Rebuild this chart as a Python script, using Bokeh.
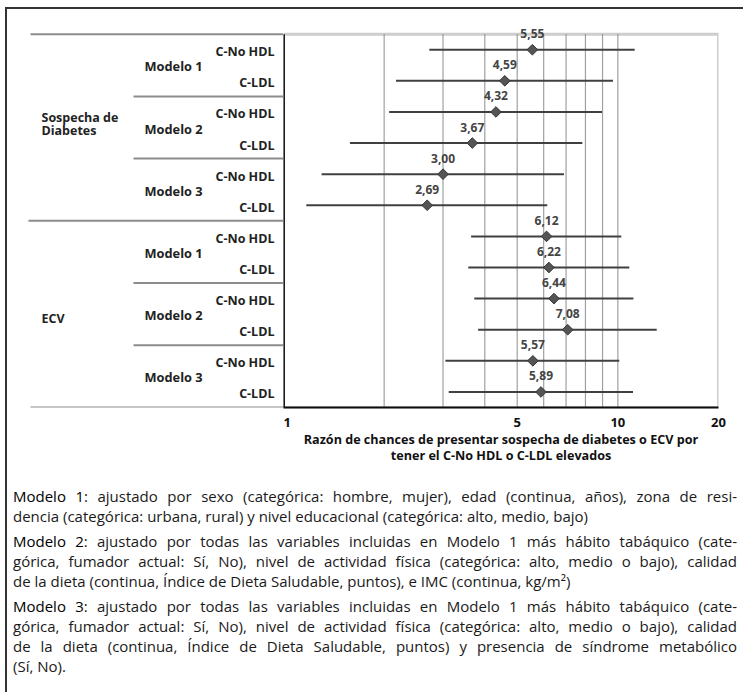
import numpy as np
from bokeh.plotting import figure
from bokeh.models import (Range1d, FixedTicker, ColumnDataSource, LabelSet, BoxAnnotation,
                          Div, Column, Row, BasicTickFormatter)
from bokeh.core.properties import value
from bokeh.embed import file_html
from bokeh.resources import INLINE

# ---------------- data ----------------
groups = ["Sospecha de Diabetes"] * 6 + ["ECV"] * 6
models = ["Modelo 1", "Modelo 1", "Modelo 2", "Modelo 2", "Modelo 3", "Modelo 3"] * 2
measures = ["C-No HDL", "C-LDL"] * 6
odds = [5.55, 4.59, 4.32, 3.67, 3.00, 2.69, 6.12, 6.22, 6.44, 7.08, 5.57, 5.89]
ci_low = [2.73, 2.17, 2.07, 1.58, 1.30, 1.17, 3.64, 3.57, 3.72, 3.82, 3.05, 3.12]
ci_high = [11.23, 9.67, 8.97, 7.83, 6.90, 6.15, 10.24, 10.82, 11.13, 13.07, 10.10, 11.10]
odds_labels = ["5,55", "4,59", "4,32", "3,67", "3,00", "2,69",
               "6,12", "6,22", "6,44", "7,08", "5,57", "5,89"]
group_lines = {"Sospecha de Diabetes": ["Sospecha de", "Diabetes"], "ECV": ["ECV"]}
x_ticks = [1, 5, 10, 20]
grid_ticks = [2, 3, 4, 5, 6, 7, 8, 9, 10]
x_title = ("Razón de chances de presentar sospecha de diabetes o ECV por\n"
           "tener el C-No HDL o C-LDL elevados")
notes = [
    ["Modelo 1: ajustado por sexo (categórica: hombre, mujer), edad (continua, años), zona de resi-",
     "dencia (categórica: urbana, rural) y nivel educacional (categórica: alto, medio, bajo)"],
    ["Modelo 2: ajustado por todas las variables incluidas en Modelo 1 más hábito tabáquico (cate-",
     "górica, fumador actual: Sí, No), nivel de actividad física (categórica: alto, medio o bajo), calidad",
     "de la dieta (continua, Índice de Dieta Saludable, puntos), e IMC (continua, kg/m²)"],
    ["Modelo 3: ajustado por todas las variables incluidas en Modelo 1 más hábito tabáquico (cate-",
     "górica, fumador actual: Sí, No), nivel de actividad física (categórica: alto, medio o bajo), calidad",
     "de la dieta (continua, Índice de Dieta Saludable, puntos) y presencia de síndrome metabólico",
     "(Sí, No)."],
]

# ---------------- styles ----------------
FONT = "Open Sans"
n = len(odds)
ypos = np.arange(n)
EXT = 0.6            # extra room above first row for the value label
TOP, BOTTOM = 6, 70
H = 468
WL, WP = 276, 460
yrange_args = dict(start=n - 0.5, end=-0.5 - EXT)

# ---------------- left label panel ----------------
pL = figure(width=WL, height=H, x_range=Range1d(0, WL), y_range=Range1d(**yrange_args),
            output_backend="svg", toolbar_location=None,
            x_axis_location=None, y_axis_location=None,
            min_border_left=0, min_border_right=0, min_border_top=TOP, min_border_bottom=BOTTOM,
            outline_line_color=None)
pL.grid.visible = False

sep_y, sep_x0 = [-0.5], [23]
for k in range(1, n):
    if groups[k] != groups[k - 1]:
        sep_y.append(k - 0.5); sep_x0.append(21)
    elif models[k] != models[k - 1]:
        sep_y.append(k - 0.5); sep_x0.append(126)
sep_y.append(n - 0.5); sep_x0.append(23)
pL.segment(x0=sep_x0, x1=WL, y0=sep_y, y1=sep_y, line_color="#8c8c8c", line_width=2)

pL.text(x=267, y=ypos, text=measures, text_align="right", text_baseline="middle",
        y_offset=2, text_font=value(FONT), text_font_style="bold",
        text_font_size="12.5px", text_color="#222222")

model_y, model_txt = [], []
k = 0
while k < n:
    j = k
    while j + 1 < n and models[j + 1] == models[k] and groups[j + 1] == groups[k]:
        j += 1
    model_y.append((k + j) / 2); model_txt.append(models[k]); k = j + 1
pL.text(x=137, y=model_y, text=model_txt, text_align="left", text_baseline="middle",
        y_offset=1, text_font=value(FONT), text_font_style="bold",
        text_font_size="12.8px", text_color="#222222")

grp_y, grp_txt, grp_off = [], [], []
group_dy = {"Sospecha de Diabetes": -3.3, "ECV": 4}
k = 0
while k < n:
    j = k
    while j + 1 < n and groups[j + 1] == groups[k]:
        j += 1
    lines = group_lines[groups[k]]
    for i, ln in enumerate(lines):
        grp_y.append((k + j) / 2)
        grp_txt.append(ln)
        grp_off.append(group_dy[groups[k]] + (i - (len(lines) - 1) / 2) * 13.4)
    k = j + 1
pL.text(x=34, y=grp_y, text=grp_txt, y_offset=grp_off, text_align="left",
        text_baseline="middle", text_font=value(FONT), text_font_style="bold",
        text_font_size="12.5px", text_color="#222222")

# ---------------- forest plot ----------------
pP = figure(width=WP, height=H, x_axis_type="log", x_range=Range1d(x_ticks[0], x_ticks[-1]),
            y_range=Range1d(**yrange_args), output_backend="svg", toolbar_location=None,
            y_axis_location=None,
            min_border_left=0, min_border_right=25, min_border_top=TOP, min_border_bottom=BOTTOM,
            outline_line_color=None)
pP.grid.visible = False

ax = pP.xaxis[0]
ax.ticker = FixedTicker(ticks=x_ticks)
ax.formatter = BasicTickFormatter()
ax.major_label_overrides = {t: str(t) for t in x_ticks}
ax.axis_line_color = "black"
ax.axis_line_width = 2
ax.major_tick_line_color = None
ax.minor_tick_line_color = None
ax.major_label_text_font = FONT
ax.major_label_text_font_style = "bold"
ax.major_label_text_font_size = "13px"
ax.major_label_text_color = "#111111"
ax.major_label_text_align = "left"
ax.major_label_standoff = 4
ax.axis_label = x_title
ax.axis_label_text_font = FONT
ax.axis_label_text_font_style = "bold"
ax.axis_label_text_font_size = "12.6px"
ax.axis_label_text_color = "#111111"
ax.axis_label_text_line_height = 0.95
ax.axis_label_standoff = 1

# vertical reference grid lines inside the plotting box
pP.segment(x0=grid_ticks, x1=grid_ticks, y0=-0.5, y1=n - 0.5, line_color="#a0a0a0", line_width=1.2)
# plotting box
pP.add_layout(BoxAnnotation(left=x_ticks[0], right=x_ticks[-1], top=-0.5, bottom=n - 0.5,
                            fill_color=None, line_color="#5a5a5a", line_width=3))
pP.segment(x0=x_ticks[0], x1=x_ticks[0], y0=-0.5, y1=n - 0.5, line_color="black", line_width=3)

pP.segment(x0=ci_low, x1=ci_high, y0=ypos, y1=ypos, line_color="#404040", line_width=2)
pP.scatter(x=odds, y=ypos, marker="square", angle=np.pi / 4, size=7.5,
           fill_color="#555555", line_color="#333333", line_width=1)

src = ColumnDataSource(dict(x=odds, y=ypos, label=odds_labels))
pP.add_layout(LabelSet(x="x", y="y", text="label", source=src, text_align="center",
                       text_baseline="middle", y_offset=16, text_font=value(FONT),
                       text_font_style="bold", text_font_size="12px",
                       text_color="#444444"))

# ---------------- notes ----------------
parts = []
for para in notes:
    rows_html = []
    for i, ln in enumerate(para):
        if i == 0 and ":" in ln:
            head, rest = ln.split(":", 1)
            ln = f'<span style="color:#000">{head}</span>:{rest}'
        last = i == len(para) - 1
        align = "text-align:left;" if last else "text-align:justify;text-align-last:justify;"
        rows_html.append(f'<div style="{align}white-space:nowrap;">{ln}</div>')
    parts.append('<div style="margin-bottom:5px;">' + "".join(rows_html) + "</div>")
html = ('<div style="font-family:\'Open Sans\',sans-serif;font-size:15px;line-height:20px;'
        'color:#1a1a1a;padding-top:4px;margin-left:1px;width:724px;">' + "".join(parts) + "</div>")
div = Div(text=html, width=726, height=205)

layout = Column(children=[Row(children=[pL, pP]), div],
                styles={"border-left": "2px solid #333333", "border-top": "2px solid #333333",
                        "margin-left": "5px", "margin-top": "7px"})

open("out.html", "w").write(file_html(layout, INLINE))
